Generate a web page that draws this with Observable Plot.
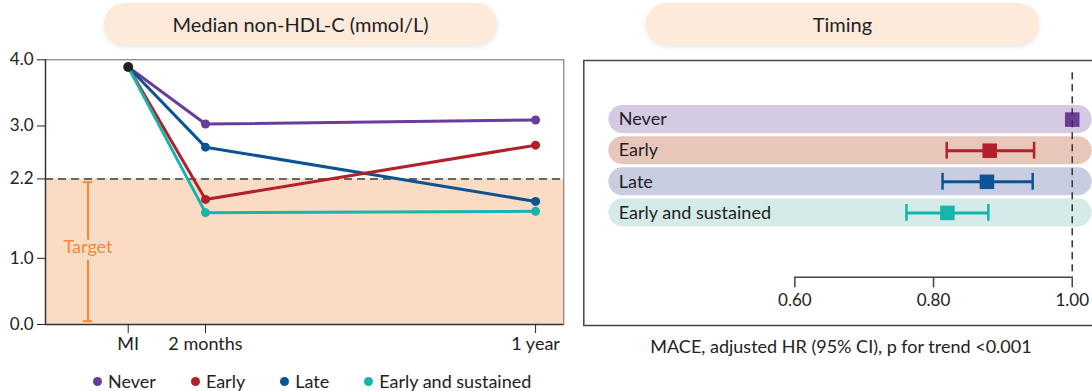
<!DOCTYPE html>
<html>
<head>
<meta charset="utf-8">
<script src="https://cdn.jsdelivr.net/npm/d3@7"></script>
<script src="https://cdn.jsdelivr.net/npm/@observablehq/plot@0.6"></script>
<style>
  html, body { margin: 0; padding: 0; overflow: hidden; background: #fff; }
  body { width: 1092px; height: 391px; position: relative; font-family: Lato, "Open Sans", sans-serif; color: #222; }
  .pill { position: absolute; top: 3px; height: 42px; line-height: 42px; border-radius: 21px;
          background: #fdeadb; box-shadow: 0 2px 5px rgba(0,0,0,0.10); text-align: center; font-size: 20px; color: #222; }
  #left, #right { position: absolute; top: 0; }
  #left { left: 0; width: 570px; }
  #right { left: 570px; width: 560px; }
  #left svg, #right svg { max-width: none !important; }
  #legend { position: absolute; left: 93px; top: 369px; display: flex; gap: 35px; font-size: 18px; line-height: 24px; }
  #legend span.item { display: flex; align-items: center; }
  #legend span.dot { width: 9px; height: 9px; border-radius: 50%; display: inline-block; margin-right: 6px; }
  #caption { position: absolute; left: 591px; width: 500px; top: 334px; text-align: center; font-size: 18px; line-height: 24px; }
</style>
</head>
<body>
<div id="left"></div>
<div id="right"></div>
<div class="pill" style="left:104px;width:393px;">Median non-HDL-C (mmol/L)</div>
<div class="pill" style="left:646px;width:393px;">Timing</div>
<div id="legend"></div>
<div id="caption">MACE, adjusted HR (95% CI), p for trend &lt;0.001</div>
<script>
// ---------- data ----------
const groups = ["Never", "Early", "Late", "Early and sustained"];
const groupColors = ["#6a3d9a", "#b2202a", "#0b5394", "#17b4ad"];
const bandColors = ["#d4cae2", "#e8c7bb", "#c9cde1", "#d4ebe7"];

const timeLabels = ["MI", "2 months", "1 year"];
const timePos = [0, 1, 5.27];          // spacing of the time points
const valueMI = 3.89;
const value2m = [3.03, 1.89, 2.68, 1.69];
const value1y = [3.09, 2.71, 1.86, 1.71];
const yTicks = [0, 1, 2.2, 3, 4];
const targetRange = [0, 2.2];
const targetLabel = "Target";

const hrEst = [1.00, 0.881, 0.877, 0.820];
const hrLo = [null, 0.819, 0.813, 0.761];
const hrHi = [null, 0.945, 0.943, 0.879];
const hrTicks = [0.60, 0.80, 1.00];

// ---------- layout constants ----------
const drawOrder = [0, 2, 1, 3];
const targetX = -0.52;
const bracketPad = 0.05;

// ---------- left chart ----------
const linePts = [];
drawOrder.forEach(i => {
  const g = groups[i];
  linePts.push({g, t: timePos[0], v: valueMI});
  linePts.push({g, t: timePos[1], v: value2m[i]});
  linePts.push({g, t: timePos[2], v: value1y[i]});
});
const dotPts = linePts.filter(d => d.t !== timePos[0]);
const xDom = [-1.07, 5.635];
const bLo = targetRange[0] + bracketPad, bHi = targetRange[1] - bracketPad;
const orange = "#f0893a";

const left = Plot.plot({
  width: 570, height: 360,
  marginLeft: 45, marginRight: 6.7, marginTop: 59.3, marginBottom: 36,
  x: {domain: xDom},
  y: {domain: [0, 4]},
  color: {domain: groups, range: groupColors},
  style: {fontFamily: "Lato, sans-serif", fontSize: "17px", color: "#222", background: "transparent", overflow: "visible"},
  marks: [
    Plot.rect([targetRange], {x1: xDom[0], x2: xDom[1], y1: d => d[0], y2: d => d[1], fill: "#fadcc4"}),
    Plot.ruleY([targetRange[1]], {stroke: "#666", strokeWidth: 2, strokeDasharray: "8,5"}),
    Plot.frame({stroke: "#666", strokeWidth: 1}),
    Plot.ruleY([0], {stroke: "#333", strokeWidth: 1.5}),
    Plot.ruleX([xDom[0]], {stroke: "#333", strokeWidth: 1.5}),
    // target bracket
    Plot.ruleX([[bLo, bHi]], {x: targetX, y1: d => d[0], y2: d => d[1], stroke: orange, strokeWidth: 2}),
    Plot.ruleY([bLo, bHi], {y: d => d, x1: targetX - 0.06, x2: targetX + 0.06, stroke: orange, strokeWidth: 2}),
    Plot.text([targetLabel], {x: targetX, y: (targetRange[0] + targetRange[1]) / 2, dy: -4, text: d => d, fill: orange,
      stroke: "#fadcc4", strokeWidth: 9, paintOrder: "stroke", fontSize: 18}),
    // series
    Plot.line(linePts, {x: "t", y: "v", z: "g", stroke: "g", strokeWidth: 3, strokeLinejoin: "round"}),
    Plot.dot(dotPts, {x: "t", y: "v", fill: "g", r: 4.5}),
    Plot.dot([valueMI], {x: timePos[0], y: d => d, fill: "#222", r: 5}),
    Plot.axisY({ticks: yTicks, tickFormat: d3.format(".1f"), tickSize: 8, tickPadding: 4, label: null, fontSize: 17}),
    Plot.axisX({ticks: timePos, tickFormat: d => timeLabels[timePos.indexOf(d)], tickSize: 9, tickPadding: 4, label: null, fontSize: 18})
  ]
});
document.getElementById("left").append(left);

// legend
const legend = document.getElementById("legend");
groups.forEach((g, i) => {
  const item = document.createElement("span");
  item.className = "item";
  item.innerHTML = `<span class="dot" style="background:${groupColors[i]}"></span>${g}`;
  legend.append(item);
});

// ---------- right chart (forest) ----------
const rows = groups.map((g, i) => ({g, r: i, est: hrEst[i], lo: hrLo[i], hi: hrHi[i], band: bandColors[i], col: groupColors[i]}));
const ciRows = rows.filter(d => d.lo != null);
const axisRow = 5.07;
const bandX1 = 0.3318, bandX2 = 1.0288;

const right = Plot.plot({
  width: 560, height: 340,
  marginLeft: 13.3, marginRight: 34, marginTop: 60, marginBottom: 15,
  x: {domain: [0.2957, 1.035], axis: null},
  y: {domain: [-1.9, 6.62], reverse: true, axis: null},
  style: {fontFamily: "Lato, sans-serif", fontSize: "17px", color: "#222", background: "transparent", overflow: "visible"},
  marks: [
    Plot.rect(rows, {x1: bandX1, x2: bandX2, y1: d => d.r - 0.45, y2: d => d.r + 0.45, fill: "band", rx: 14}),
    Plot.text(rows, {x: bandX1, dx: 10, y: "r", text: "g", textAnchor: "start", fontSize: 18, fill: "#222"}),
    Plot.ruleY(ciRows, {x1: "lo", x2: "hi", y: "r", stroke: "col", strokeWidth: 3}),
    Plot.ruleX(ciRows, {x: "lo", y1: d => d.r - 0.27, y2: d => d.r + 0.27, stroke: "col", strokeWidth: 2.5}),
    Plot.ruleX(ciRows, {x: "hi", y1: d => d.r - 0.27, y2: d => d.r + 0.27, stroke: "col", strokeWidth: 2.5}),
    Plot.dot(rows, {x: "est", y: "r", symbol: "square", r: 8.2, fill: "col"}),
    Plot.ruleX([hrTicks[hrTicks.length - 1]], {y1: -1.51, y2: axisRow, stroke: "#333", strokeWidth: 1.5, strokeDasharray: "7,5"}),
    Plot.ruleY([axisRow], {x1: d3.min(hrTicks), x2: d3.max(hrTicks), stroke: "#444", strokeWidth: 1.5}),
    Plot.ruleX(hrTicks, {x: d => d, y1: axisRow, y2: axisRow + 0.34, stroke: "#444", strokeWidth: 1.5}),
    Plot.text(hrTicks, {x: d => d, y: axisRow, dy: 23, text: d => d3.format(".2f")(d), fontSize: 17, fill: "#222"}),
    Plot.frame({stroke: "#444", strokeWidth: 1.5})
  ]
});
document.getElementById("right").append(right);
</script>
</body>
</html>
